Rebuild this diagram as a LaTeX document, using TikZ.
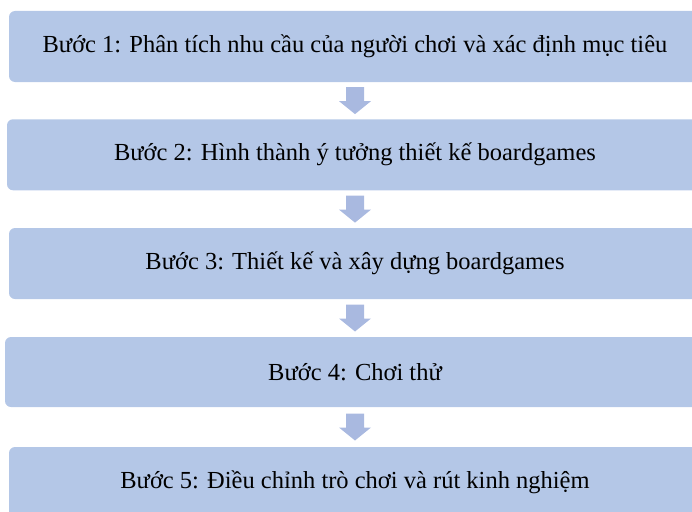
\documentclass[tikz,border=0pt]{standalone}
\usepackage{fontspec}
\setmainfont{Liberation Serif}
\usepackage{tikz}
\usetikzlibrary{calc, positioning}
\definecolor{stepblue}{HTML}{B4C7E7}
\definecolor{arrowblue}{HTML}{A9B9E0}

\tikzset{
	stepbox/.style={fill=stepblue, draw=none, rounded corners=6pt, minimum height=71pt, inner sep=0pt, font=\fontsize{24.5}{28}\selectfont, text=black},
	downarrow/.style={fill=arrowblue, draw=none}
}

\begin{document}
\begin{tikzpicture}[x=1pt, y=1pt]
		\useasboundingbox (0,0) rectangle (692,-511);
		\clip (0,0) rectangle (692,-511);
		
		\node[stepbox, minimum width=692pt] (step1) at (355,-46.5) {Bước 1: Phân tích nhu cầu của người chơi và xác định mục tiêu};
		\node[stepbox, minimum width=696pt] (step2) at (355,-154.75) {Bước 2: Hình thành ý tưởng thiết kế boardgames};
		\node[stepbox, minimum width=692pt] (step3) at (355,-263.5) {Bước 3: Thiết kế và xây dựng boardgames};
		\node[stepbox, minimum width=700pt, minimum height=70pt] (step4) at (355,-372) {Bước 4: Chơi thử};
		\node[stepbox, minimum width=692pt, minimum height=70pt] (step5) at (355,-482) {Bước 5: Điều chỉnh trò chơi và rút kinh nghiệm};
		
		% block arrows between the steps
		\foreach \i/\j in {1/2, 2/3, 3/4, 4/5} {
			\coordinate (mid\i) at ($(step\i.south)!0.5!(step\j.north)$);
			\fill[downarrow] (mid\i) ++(-9,13.5) -- ++(18,0) -- ++(0,-14) -- ++(7,0) -- ++(-16,-13) -- ++(-16,13) -- ++(7,0) -- cycle;
		}
\end{tikzpicture}
\end{document}
